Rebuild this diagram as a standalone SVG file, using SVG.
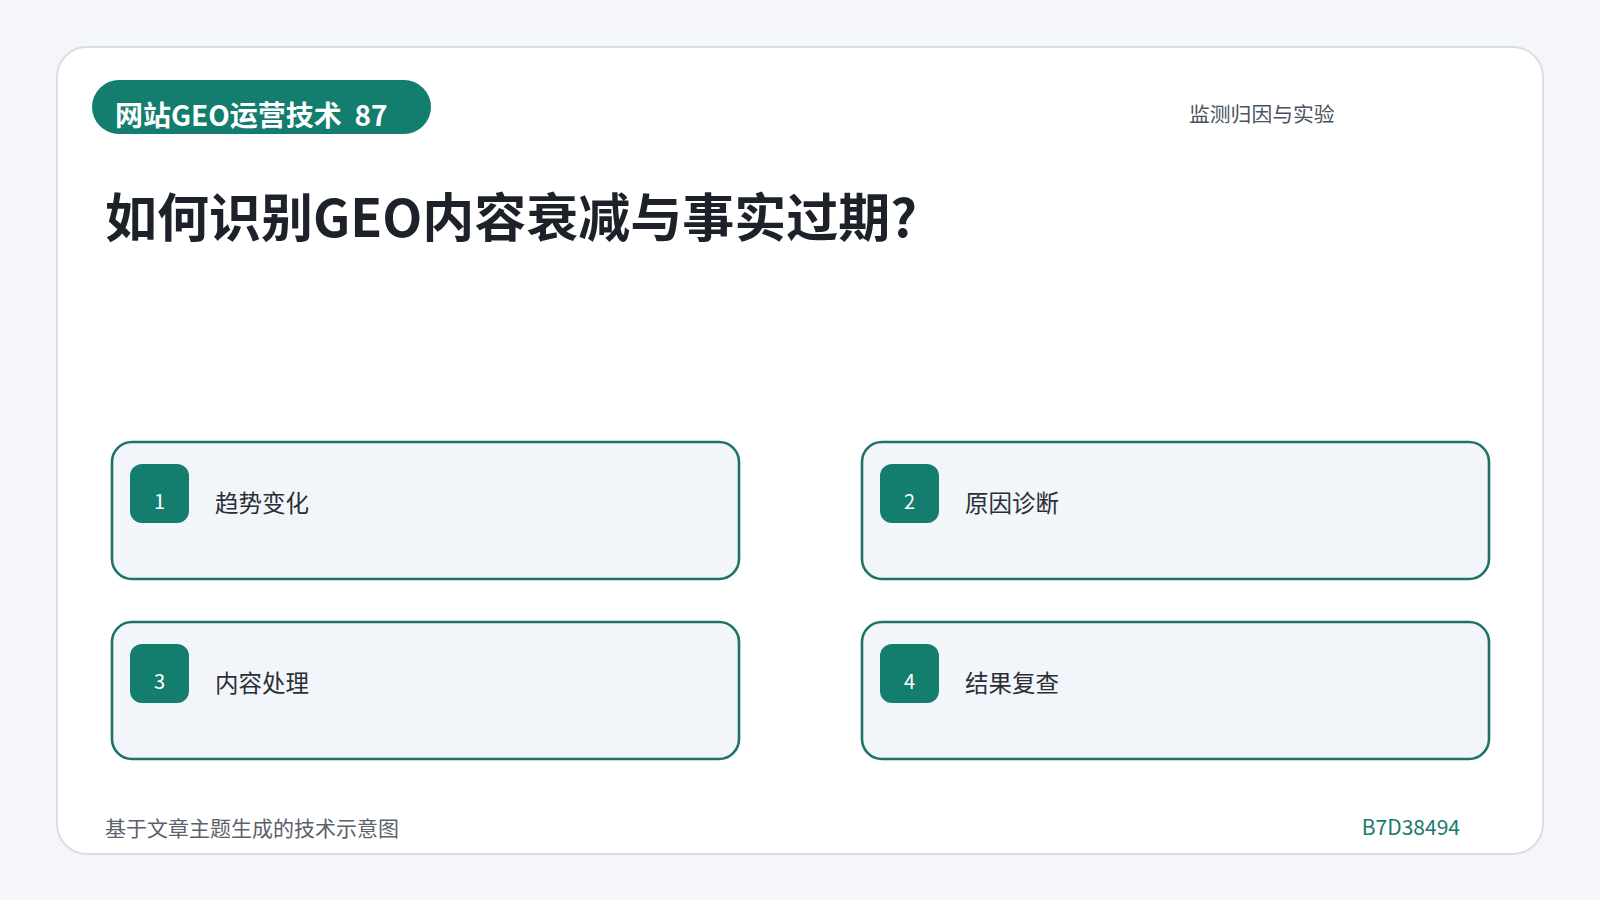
<svg xmlns="http://www.w3.org/2000/svg" width="1600" height="900" viewBox="0 0 1600 900">
<style>
.f{font-family:"Noto Sans CJK SC","Noto Sans",sans-serif}
.card{fill:#f2f6fa;stroke:#1e7268;stroke-width:2.6}
.badge{fill:#137d6e}
.num{font-size:20px;fill:#ffffff;text-anchor:middle}
.lbl{font-size:23.5px;fill:#2a2f36}
</style>
<rect x="0" y="0" width="1600" height="900" fill="#f4f6fa"/>
<rect x="57" y="47" width="1486" height="807" rx="30" fill="#ffffff" stroke="#d9dee6" stroke-width="2"/>
<g id="header">
<rect x="92" y="80" width="339" height="54" rx="27" fill="#137d6e"/>
<text class="f" x="115" y="126" font-size="28" font-weight="700" fill="#ffffff" xml:space="preserve">网站GEO运营技术  87</text>
<text class="f" x="1189" y="122" font-size="20.8" fill="#4a5260">监测归因与实验</text>
<text class="f" x="105" y="237" font-size="52" font-weight="700" fill="#1d2129">如何识别GEO内容衰减与事实过期?</text>
</g>
<g id="connectors"></g>
<g id="node1">
<rect class="card" x="112" y="442" width="627" height="137" rx="20"/>
<rect class="badge" x="130" y="464" width="59" height="59" rx="12"/>
<text class="f num" x="159.5" y="509">1</text>
<text class="f lbl" x="215" y="512">趋势变化</text>
</g>
<g id="node2">
<rect class="card" x="862" y="442" width="627" height="137" rx="20"/>
<rect class="badge" x="880" y="464" width="59" height="59" rx="12"/>
<text class="f num" x="909.5" y="509">2</text>
<text class="f lbl" x="965" y="512">原因诊断</text>
</g>
<g id="node3">
<rect class="card" x="112" y="622" width="627" height="137" rx="20"/>
<rect class="badge" x="130" y="644" width="59" height="59" rx="12"/>
<text class="f num" x="159.5" y="689">3</text>
<text class="f lbl" x="215" y="692">内容处理</text>
</g>
<g id="node4">
<rect class="card" x="862" y="622" width="627" height="137" rx="20"/>
<rect class="badge" x="880" y="644" width="59" height="59" rx="12"/>
<text class="f num" x="909.5" y="689">4</text>
<text class="f lbl" x="965" y="692">结果复查</text>
</g>
<g id="footer">
<text class="f" x="105" y="836" font-size="21" fill="#5b626c">基于文章主题生成的技术示意图</text>
<text class="f" x="1460" y="835" font-size="21" fill="#1a7a6d" text-anchor="end">B7D38494</text>
</g>
</svg>
